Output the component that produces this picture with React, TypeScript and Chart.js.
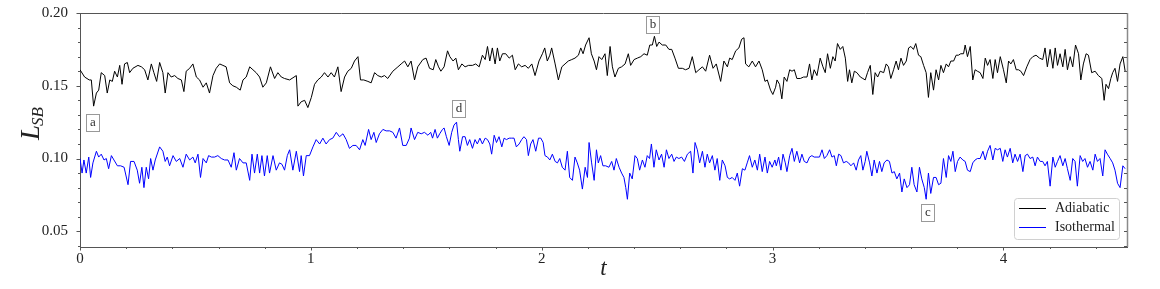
import React, { useEffect, useRef } from 'react';
import { Chart, registerables } from 'chart.js';

Chart.register(...registerables);

// ---- Data ----
const adiabaticT = [
  0.000, 0.020, 0.040, 0.049, 0.059, 0.071, 0.081, 0.092, 0.107, 0.118, 0.129, 0.140, 0.150, 0.162, 0.172, 0.182, 0.193, 0.205, 0.215, 0.229,
  0.251, 0.266, 0.280, 0.294, 0.309, 0.320, 0.332, 0.345, 0.359, 0.369, 0.381, 0.395, 0.410, 0.424, 0.439, 0.450, 0.460, 0.475, 0.489, 0.504,
  0.518, 0.533, 0.547, 0.561, 0.576, 0.590, 0.605, 0.619, 0.633, 0.648, 0.662, 0.677, 0.694, 0.706, 0.720, 0.735, 0.749, 0.763, 0.778, 0.792,
  0.807, 0.825, 0.843, 0.857, 0.872, 0.886, 0.908, 0.937, 0.944, 0.958, 0.973, 0.987, 1.002, 1.016, 1.030, 1.045, 1.059, 1.074, 1.088, 1.102,
  1.117, 1.131, 1.146, 1.160, 1.175, 1.189, 1.204, 1.215, 1.229, 1.247, 1.261, 1.276, 1.290, 1.305, 1.319, 1.333, 1.355, 1.377, 1.391, 1.406,
  1.420, 1.434, 1.449, 1.463, 1.485, 1.499, 1.514,
  1.530, 1.541, 1.553, 1.563, 1.577, 1.592, 1.602, 1.616, 1.628, 1.639, 1.654, 1.668, 1.683, 1.700, 1.714, 1.729, 1.743, 1.755, 1.765, 1.775,
  1.786, 1.798, 1.808, 1.818, 1.830, 1.844, 1.859, 1.873, 1.885, 1.899, 1.913, 1.928, 1.942, 1.957, 1.971, 1.988, 2.003, 2.013, 2.024, 2.035,
  2.043, 2.058, 2.072, 2.087, 2.101, 2.115, 2.130, 2.144, 2.159, 2.169, 2.179, 2.190, 2.205, 2.215, 2.227, 2.237, 2.248, 2.260, 2.274, 2.284,
  2.296, 2.306, 2.317, 2.332, 2.346, 2.361, 2.375, 2.385, 2.400, 2.414, 2.429, 2.443, 2.457, 2.468, 2.479, 2.488, 2.498, 2.508, 2.522, 2.537,
  2.551, 2.563, 2.577, 2.592, 2.609, 2.623, 2.638, 2.652, 2.667, 2.681, 2.696, 2.710, 2.727, 2.742, 2.756, 2.775, 2.789, 2.804, 2.814, 2.825,
  2.840, 2.854, 2.866, 2.876, 2.883, 2.897, 2.912, 2.926, 2.941, 2.955, 2.967, 2.977, 2.991, 3.001, 3.013,
  3.019, 3.030, 3.040, 3.050, 3.062, 3.074, 3.084, 3.094, 3.105, 3.120, 3.134, 3.149, 3.160, 3.170, 3.180, 3.192, 3.206, 3.218, 3.228, 3.238,
  3.250, 3.261, 3.271, 3.281, 3.293, 3.304, 3.315, 3.325, 3.333, 3.343, 3.354, 3.365, 3.380, 3.391, 3.401, 3.411, 3.423, 3.434, 3.444, 3.455,
  3.466, 3.481, 3.492, 3.502, 3.512, 3.524, 3.535, 3.545, 3.556, 3.567, 3.579, 3.589, 3.599, 3.610, 3.620, 3.632, 3.642, 3.654, 3.665, 3.675,
  3.685, 3.697, 3.708, 3.719, 3.729, 3.740, 3.752, 3.762, 3.772, 3.784, 3.795, 3.805, 3.815, 3.827, 3.834, 3.844, 3.856, 3.867, 3.877, 3.887,
  3.899, 3.911, 3.921, 3.931, 3.942, 3.954, 3.964, 3.974, 3.986, 4.000, 4.012, 4.022, 4.032, 4.043, 4.055, 4.065, 4.075, 4.087, 4.101, 4.115,
  4.127, 4.141, 4.156, 4.170, 4.180, 4.190, 4.202, 4.214, 4.224, 4.234, 4.245, 4.257, 4.267, 4.277, 4.289, 4.300, 4.312, 4.325, 4.335, 4.346,
  4.358, 4.368, 4.382, 4.397, 4.411, 4.426, 4.436, 4.444, 4.455, 4.465, 4.473, 4.483, 4.494, 4.505, 4.517, 4.527,
];
const adiabaticL = [
  0.161, 0.156, 0.154, 0.154, 0.136, 0.145, 0.147, 0.159, 0.157, 0.145, 0.154, 0.153, 0.160, 0.156, 0.164, 0.151, 0.165, 0.166, 0.159, 0.162,
  0.164, 0.163, 0.161, 0.154, 0.165, 0.159, 0.153, 0.166, 0.159, 0.145, 0.159, 0.156, 0.157, 0.155, 0.154, 0.146, 0.160, 0.162, 0.165, 0.156,
  0.154, 0.149, 0.152, 0.145, 0.157, 0.162, 0.165, 0.164, 0.163, 0.152, 0.150, 0.149, 0.147, 0.154, 0.156, 0.163, 0.161, 0.159, 0.156, 0.149,
  0.152, 0.163, 0.155, 0.159, 0.156, 0.155, 0.154, 0.157, 0.136, 0.139, 0.140, 0.135, 0.142, 0.151, 0.154, 0.156, 0.159, 0.156, 0.159, 0.156,
  0.163, 0.146, 0.156, 0.160, 0.162, 0.167, 0.170, 0.154, 0.154, 0.153, 0.152, 0.159, 0.157, 0.156, 0.157, 0.155, 0.160, 0.163, 0.165, 0.167,
  0.163, 0.167, 0.154, 0.163, 0.168, 0.169, 0.162,
  0.161, 0.168, 0.163, 0.160, 0.163, 0.174, 0.170, 0.167, 0.169, 0.161, 0.165, 0.163, 0.164, 0.164, 0.165, 0.163, 0.171, 0.168, 0.177, 0.167,
  0.176, 0.165, 0.176, 0.167, 0.172, 0.172, 0.169, 0.171, 0.161, 0.165, 0.163, 0.164, 0.162, 0.165, 0.157, 0.167, 0.172, 0.176, 0.167, 0.171,
  0.176, 0.165, 0.154, 0.163, 0.165, 0.167, 0.168, 0.169, 0.171, 0.176, 0.172, 0.178, 0.183, 0.172, 0.167, 0.161, 0.170, 0.168, 0.172, 0.157,
  0.177, 0.163, 0.156, 0.162, 0.163, 0.165, 0.172, 0.164, 0.168, 0.169, 0.170, 0.172, 0.171, 0.178, 0.178, 0.184, 0.177, 0.180, 0.178, 0.178,
  0.175, 0.175, 0.169, 0.162, 0.162, 0.161, 0.162, 0.170, 0.159, 0.161, 0.163, 0.160, 0.171, 0.162, 0.165, 0.153, 0.167, 0.163, 0.169, 0.168,
  0.174, 0.176, 0.182, 0.183, 0.165, 0.163, 0.167, 0.163, 0.167, 0.161, 0.153, 0.154, 0.147, 0.144, 0.149,
  0.154, 0.151, 0.141, 0.156, 0.153, 0.161, 0.160, 0.161, 0.155, 0.155, 0.156, 0.156, 0.165, 0.154, 0.161, 0.157, 0.169, 0.163, 0.159, 0.172,
  0.162, 0.170, 0.167, 0.179, 0.175, 0.177, 0.169, 0.153, 0.161, 0.152, 0.160, 0.159, 0.156, 0.155, 0.154, 0.159, 0.164, 0.144, 0.159, 0.156,
  0.160, 0.159, 0.165, 0.163, 0.155, 0.161, 0.167, 0.161, 0.169, 0.164, 0.167, 0.176, 0.177, 0.175, 0.179, 0.171, 0.170, 0.164, 0.159, 0.142,
  0.159, 0.147, 0.161, 0.154, 0.164, 0.159, 0.165, 0.163, 0.167, 0.167, 0.171, 0.171, 0.172, 0.172, 0.178, 0.170, 0.177, 0.154, 0.161, 0.160,
  0.159, 0.155, 0.169, 0.164, 0.168, 0.155, 0.168, 0.159, 0.170, 0.161, 0.152, 0.167, 0.165, 0.168, 0.161, 0.161, 0.160, 0.157, 0.163, 0.168,
  0.170, 0.171, 0.169, 0.168, 0.176, 0.163, 0.175, 0.162, 0.176, 0.164, 0.172, 0.163, 0.175, 0.161, 0.170, 0.163, 0.178, 0.172, 0.154, 0.165,
  0.172, 0.171, 0.159, 0.160, 0.157, 0.155, 0.140, 0.151, 0.148, 0.155, 0.159, 0.162, 0.153, 0.165, 0.170, 0.160,
];

const isothermalT = [
  0.000, 0.009, 0.017, 0.027, 0.038, 0.046, 0.056, 0.071, 0.081, 0.092, 0.104, 0.114, 0.124, 0.136, 0.147, 0.162, 0.176, 0.191, 0.208, 0.219,
  0.234, 0.248, 0.258, 0.268, 0.277, 0.287, 0.297, 0.306, 0.316, 0.326, 0.345, 0.359, 0.369, 0.378, 0.388, 0.403, 0.417, 0.432, 0.446, 0.460,
  0.475, 0.489, 0.499, 0.511, 0.522, 0.533, 0.547, 0.557, 0.569, 0.583, 0.597, 0.612, 0.626, 0.641, 0.655, 0.667, 0.677, 0.691, 0.706, 0.720,
  0.735, 0.745, 0.756, 0.768, 0.778, 0.788, 0.799, 0.811, 0.821, 0.836, 0.850, 0.864, 0.875, 0.886, 0.898, 0.908, 0.922, 0.937, 0.951, 0.958,
  0.968, 0.980, 0.994, 1.009, 1.023, 1.038, 1.052, 1.066, 1.081, 1.095, 1.110, 1.124, 1.139, 1.153, 1.167, 1.182, 1.196, 1.211, 1.225, 1.235,
  1.250, 1.261, 1.273, 1.283, 1.297, 1.312, 1.326, 1.341, 1.355, 1.369, 1.384, 1.398, 1.413, 1.427, 1.434, 1.449, 1.463, 1.478, 1.492, 1.507,
  1.519, 1.527, 1.538, 1.548, 1.558, 1.570, 1.577, 1.587, 1.599, 1.610, 1.620, 1.631, 1.639, 1.645, 1.657, 1.668, 1.678, 1.688, 1.700, 1.711,
  1.721, 1.732, 1.743, 1.755, 1.765, 1.775, 1.783, 1.794, 1.804, 1.815, 1.827, 1.837, 1.847, 1.859, 1.870, 1.880, 1.890, 1.902, 1.913, 1.923,
  1.934, 1.942, 1.952, 1.962, 1.974, 1.986, 1.996, 2.006, 2.014, 2.025, 2.035, 2.046, 2.058, 2.068, 2.078, 2.089, 2.101, 2.111, 2.121, 2.133,
  2.144, 2.154, 2.164, 2.176, 2.188, 2.198, 2.205, 2.216, 2.227, 2.237, 2.245, 2.255, 2.265, 2.277, 2.291, 2.303, 2.313, 2.323, 2.335, 2.346,
  2.356, 2.364, 2.371, 2.381, 2.392, 2.404, 2.414, 2.424, 2.436, 2.447, 2.457, 2.467, 2.475, 2.486, 2.496, 2.508, 2.519, 2.530, 2.540, 2.551,
  2.563, 2.573, 2.583, 2.594, 2.606, 2.618, 2.631, 2.645, 2.655, 2.664, 2.674, 2.684, 2.696, 2.707, 2.717, 2.727, 2.739, 2.750, 2.760, 2.771,
  2.782, 2.794, 2.804, 2.814, 2.825, 2.837, 2.847, 2.857, 2.869, 2.880, 2.890, 2.900, 2.912, 2.923, 2.934, 2.944, 2.955, 2.967, 2.977, 2.987,
  2.998, 3.010,
  3.016, 3.026, 3.036, 3.045, 3.055, 3.062, 3.074, 3.084, 3.094, 3.105, 3.117, 3.127, 3.137, 3.149, 3.160, 3.170, 3.180, 3.192, 3.203, 3.214,
  3.224, 3.235, 3.247, 3.257, 3.267, 3.276, 3.286, 3.296, 3.307, 3.319, 3.329, 3.339, 3.351, 3.362, 3.372, 3.382, 3.391, 3.401, 3.408, 3.420,
  3.430, 3.440, 3.452, 3.463, 3.473, 3.483, 3.495, 3.506, 3.517, 3.527, 3.538, 3.550, 3.560, 3.570, 3.582, 3.593, 3.603, 3.613, 3.625, 3.636,
  3.646, 3.657, 3.665, 3.675, 3.685, 3.697, 3.708, 3.719, 3.729, 3.740, 3.752, 3.762, 3.772, 3.781, 3.791, 3.801, 3.812, 3.824, 3.834, 3.844,
  3.856, 3.867, 3.877, 3.887, 3.899, 3.911, 3.921, 3.931, 3.942, 3.954, 3.964, 3.974, 3.986, 3.997, 4.007, 4.017, 4.029, 4.040, 4.050, 4.061,
  4.072, 4.084, 4.094, 4.104, 4.115, 4.127, 4.137, 4.147, 4.159, 4.170, 4.180, 4.190, 4.202, 4.214, 4.224, 4.234, 4.245, 4.257, 4.267, 4.277,
  4.289, 4.300, 4.310, 4.320, 4.332, 4.343, 4.353, 4.364, 4.375, 4.387, 4.397, 4.407, 4.418, 4.430, 4.440, 4.450, 4.462, 4.473, 4.483, 4.494,
  4.505, 4.517, 4.527,
];
const isothermalL = [
  0.100, 0.090, 0.099, 0.090, 0.101, 0.087, 0.097, 0.105, 0.101, 0.103, 0.099, 0.100, 0.093, 0.102, 0.099, 0.095, 0.095, 0.094, 0.082, 0.098,
  0.098, 0.092, 0.083, 0.094, 0.080, 0.094, 0.086, 0.100, 0.092, 0.099, 0.108, 0.105, 0.098, 0.101, 0.095, 0.102, 0.098, 0.100, 0.094, 0.103,
  0.099, 0.101, 0.097, 0.103, 0.087, 0.100, 0.097, 0.102, 0.101, 0.101, 0.102, 0.100, 0.099, 0.099, 0.094, 0.104, 0.092, 0.100, 0.097, 0.097,
  0.085, 0.103, 0.090, 0.103, 0.090, 0.102, 0.088, 0.102, 0.090, 0.102, 0.092, 0.097, 0.096, 0.092, 0.102, 0.106, 0.092, 0.105, 0.091, 0.102,
  0.088, 0.102, 0.102, 0.108, 0.113, 0.110, 0.114, 0.110, 0.113, 0.114, 0.118, 0.115, 0.117, 0.113, 0.107, 0.109, 0.109, 0.106, 0.113, 0.109,
  0.120, 0.113, 0.118, 0.111, 0.117, 0.120, 0.119, 0.119, 0.118, 0.114, 0.121, 0.109, 0.109, 0.114, 0.121, 0.113, 0.118, 0.117, 0.118, 0.116,
  0.118, 0.114, 0.120, 0.114, 0.117, 0.120, 0.121, 0.115, 0.109, 0.118, 0.123, 0.125, 0.113, 0.105, 0.115, 0.115, 0.109, 0.113, 0.107, 0.113,
  0.110, 0.114, 0.110, 0.114, 0.113, 0.110, 0.103, 0.116, 0.111, 0.115, 0.108, 0.114, 0.113, 0.114, 0.114, 0.114, 0.108, 0.110, 0.113, 0.115,
  0.113, 0.102, 0.110, 0.113, 0.105, 0.114, 0.114, 0.111, 0.102, 0.101, 0.099, 0.103, 0.098, 0.097, 0.100, 0.094, 0.092, 0.105, 0.087, 0.085,
  0.101, 0.097, 0.092, 0.079, 0.094, 0.087, 0.111, 0.097, 0.085, 0.106, 0.097, 0.102, 0.095, 0.095, 0.094, 0.098, 0.092, 0.100, 0.094, 0.090,
  0.087, 0.080, 0.072, 0.090, 0.086, 0.102, 0.100, 0.092, 0.099, 0.094, 0.102, 0.100, 0.110, 0.094, 0.106, 0.099, 0.103, 0.094, 0.106, 0.100,
  0.103, 0.098, 0.101, 0.100, 0.101, 0.098, 0.103, 0.105, 0.090, 0.111, 0.106, 0.097, 0.105, 0.094, 0.103, 0.097, 0.102, 0.092, 0.100, 0.085,
  0.099, 0.095, 0.087, 0.086, 0.087, 0.085, 0.090, 0.081, 0.093, 0.092, 0.097, 0.102, 0.094, 0.099, 0.092, 0.103, 0.091, 0.101, 0.090, 0.098,
  0.094, 0.099,
  0.095, 0.101, 0.092, 0.103, 0.097, 0.091, 0.102, 0.107, 0.098, 0.105, 0.097, 0.103, 0.098, 0.097, 0.101, 0.102, 0.101, 0.101, 0.101, 0.106,
  0.100, 0.102, 0.106, 0.101, 0.102, 0.095, 0.103, 0.102, 0.097, 0.098, 0.097, 0.095, 0.097, 0.092, 0.099, 0.102, 0.092, 0.098, 0.105, 0.097,
  0.088, 0.099, 0.090, 0.098, 0.091, 0.097, 0.099, 0.098, 0.090, 0.091, 0.086, 0.090, 0.077, 0.086, 0.080, 0.082, 0.094, 0.082, 0.077, 0.094,
  0.086, 0.080, 0.072, 0.090, 0.076, 0.087, 0.087, 0.082, 0.083, 0.100, 0.087, 0.102, 0.098, 0.105, 0.091, 0.098, 0.101, 0.099, 0.098, 0.092,
  0.091, 0.097, 0.099, 0.100, 0.100, 0.105, 0.099, 0.105, 0.109, 0.099, 0.107, 0.106, 0.107, 0.098, 0.106, 0.101, 0.107, 0.097, 0.103, 0.098,
  0.103, 0.091, 0.102, 0.103, 0.100, 0.101, 0.095, 0.101, 0.098, 0.098, 0.095, 0.098, 0.081, 0.101, 0.094, 0.098, 0.102, 0.095, 0.100, 0.093,
  0.085, 0.100, 0.098, 0.081, 0.102, 0.098, 0.100, 0.094, 0.098, 0.092, 0.103, 0.098, 0.100, 0.088, 0.106, 0.103, 0.100, 0.097, 0.092, 0.083,
  0.080, 0.095, 0.093,
];

const seriesNames = ['Adiabatic', 'Isothermal'];
const seriesColors = ['#000000', '#0000ff'];

const xMajorTicks = [0, 1, 2, 3, 4];
const xMinorTicks = [0.2, 0.4, 0.6, 0.8, 1.2, 1.4, 1.6, 1.8, 2.2, 2.4, 2.6, 2.8, 3.2, 3.4, 3.6, 3.8, 4.2, 4.4];
const yMajorTicks = [0.05, 0.1, 0.15, 0.2];
const yMinorTicks = [0.04, 0.06, 0.07, 0.08, 0.09, 0.11, 0.12, 0.13, 0.14, 0.16, 0.17, 0.18, 0.19];

const markLabels = ['a', 'b', 'c', 'd'];
const markT = [0.056, 2.478, 3.673, 1.638];
const markL = [0.125, 0.1923, 0.0626, 0.1343];

const X_MIN = 0;
const X_MAX = 4.535;
const Y_MIN = 0.0392;
const Y_MAX = 0.2;

const SERIF = '"Liberation Serif", "DejaVu Serif", serif';

const toPoints = (ts: number[], ls: number[]) => ts.map((t, i) => ({ x: t, y: ls[i] }));

const decorPlugin = {
  id: 'decor',
  afterDraw(chart: any) {
    const { ctx, chartArea, scales } = chart;
    const xs = scales.x;
    const ys = scales.y;
    const { left, right, top, bottom } = chartArea;
    ctx.save();

    // top and right spines
    ctx.lineWidth = 1;
    ctx.strokeStyle = '#555';
    ctx.beginPath();
    ctx.moveTo(left, Math.round(top) + 0.5);
    ctx.lineTo(right, Math.round(top) + 0.5);
    ctx.stroke();
    ctx.strokeStyle = '#8a8a8a';
    ctx.lineWidth = 1.5;
    ctx.beginPath();
    ctx.moveTo(Math.round(right) + 0.5, top);
    ctx.lineTo(Math.round(right) + 0.5, bottom);
    ctx.stroke();

    // ticks
    ctx.strokeStyle = '#555';
    ctx.lineWidth = 1;
    const yTick = (v: number, len: number) => {
      const y = Math.round(ys.getPixelForValue(v)) + 0.5;
      ctx.beginPath();
      ctx.moveTo(left - len, y);
      ctx.lineTo(left, y);
      ctx.stroke();
    };
    const yTickRight = (v: number, len: number) => {
      const y = Math.round(ys.getPixelForValue(v)) + 0.5;
      ctx.beginPath();
      ctx.moveTo(right - len, y);
      ctx.lineTo(right, y);
      ctx.stroke();
    };
    const xTick = (v: number, len: number) => {
      const x = Math.round(xs.getPixelForValue(v)) + 0.5;
      ctx.beginPath();
      ctx.moveTo(x, bottom);
      ctx.lineTo(x, bottom + len);
      ctx.stroke();
    };
    yMajorTicks.forEach((v) => { yTick(v, 3.5); yTickRight(v, 3); });
    yMinorTicks.forEach((v) => { yTick(v, 2); yTickRight(v, 3); });
    xMajorTicks.forEach((v) => xTick(v, 3.5));
    xMinorTicks.forEach((v) => xTick(v, 2));

    // axis titles
    ctx.fillStyle = '#222';
    ctx.textBaseline = 'alphabetic';
    ctx.textAlign = 'center';
    ctx.font = `italic 23px ${SERIF}`;
    ctx.fillText('t', (left + right) / 2, 275);

    ctx.save();
    const bigFont = `italic 27px ${SERIF}`;
    const smallFont = `italic 17px ${SERIF}`;
    ctx.font = bigFont;
    const wL = ctx.measureText('L').width;
    ctx.font = smallFont;
    const wS = ctx.measureText('SB').width;
    const total = wL + wS;
    const cy = 123;
    ctx.translate(39, cy + total / 2);
    ctx.rotate(-Math.PI / 2);
    ctx.textAlign = 'left';
    ctx.font = bigFont;
    ctx.fillText('L', 0, 0);
    ctx.font = smallFont;
    ctx.fillText('SB', wL - 1, 4);
    ctx.restore();

    // annotation boxes
    ctx.font = `13px ${SERIF}`;
    ctx.textAlign = 'center';
    ctx.textBaseline = 'middle';
    markLabels.forEach((lab, i) => {
      const px = xs.getPixelForValue(markT[i]);
      const py = ys.getPixelForValue(markL[i]);
      const w = 13, h = 17;
      const bx = Math.round(px - w / 2) + 0.5;
      const by = Math.round(py - h / 2) + 0.5;
      ctx.fillStyle = '#fff';
      ctx.fillRect(bx, by, w, h);
      ctx.strokeStyle = '#999';
      ctx.lineWidth = 1;
      ctx.strokeRect(bx, by, w, h);
      ctx.fillStyle = '#333';
      ctx.fillText(lab, bx + w / 2, by + h / 2);
    });

    // legend
    const lx = 1014.5, ly = 198.5, lw = 105, lh = 41, r = 3;
    ctx.beginPath();
    ctx.moveTo(lx + r, ly);
    ctx.lineTo(lx + lw - r, ly);
    ctx.arcTo(lx + lw, ly, lx + lw, ly + r, r);
    ctx.lineTo(lx + lw, ly + lh - r);
    ctx.arcTo(lx + lw, ly + lh, lx + lw - r, ly + lh, r);
    ctx.lineTo(lx + r, ly + lh);
    ctx.arcTo(lx, ly + lh, lx, ly + lh - r, r);
    ctx.lineTo(lx, ly + r);
    ctx.arcTo(lx, ly, lx + r, ly, r);
    ctx.closePath();
    ctx.fillStyle = 'rgba(255,255,255,0.85)';
    ctx.fill();
    ctx.strokeStyle = '#d0d0d0';
    ctx.stroke();
    ctx.font = `14px ${SERIF}`;
    ctx.textAlign = 'left';
    ctx.textBaseline = 'middle';
    seriesNames.forEach((name, i) => {
      const yy = 208.5 + i * 19;
      ctx.strokeStyle = seriesColors[i];
      ctx.lineWidth = 1;
      ctx.beginPath();
      ctx.moveTo(1019, yy);
      ctx.lineTo(1046, yy);
      ctx.stroke();
      ctx.fillStyle = '#222';
      ctx.fillText(name, 1055, yy);
    });

    ctx.restore();
  },
};

export default function App() {
  const ref = useRef<HTMLCanvasElement | null>(null);

  useEffect(() => {
    const canvas = ref.current;
    if (!canvas) return;
    const chart = new Chart(canvas, {
      type: 'line',
      data: {
        datasets: [
          {
            label: seriesNames[0],
            data: toPoints(adiabaticT, adiabaticL),
            borderColor: seriesColors[0],
            borderWidth: 1,
            pointRadius: 0,
            tension: 0,
            fill: false,
          },
          {
            label: seriesNames[1],
            data: toPoints(isothermalT, isothermalL),
            borderColor: seriesColors[1],
            borderWidth: 1,
            pointRadius: 0,
            tension: 0,
            fill: false,
          },
        ],
      },
      options: {
        responsive: false,
        animation: false,
        devicePixelRatio: 1,
        layout: { padding: { left: 0, right: 33, top: 13, bottom: 0 } },
        plugins: {
          legend: { display: false },
          tooltip: { enabled: false },
          title: { display: false },
        },
        scales: {
          x: {
            type: 'linear',
            min: X_MIN,
            max: X_MAX,
            grid: { display: false, drawTicks: false },
            border: { display: true, color: '#555', width: 1 },
            afterBuildTicks: (s: any) => { s.ticks = xMajorTicks.map((v) => ({ value: v })); },
            afterFit: (s: any) => { s.height = 42; s.paddingLeft = 0; s.paddingRight = 0; },
            ticks: {
              padding: 3,
              color: '#222',
              font: { family: SERIF, size: 15 },
              callback: (v: any) => String(v),
              maxRotation: 0,
            },
          },
          y: {
            type: 'linear',
            min: Y_MIN,
            max: Y_MAX,
            grid: { display: false, drawTicks: false },
            border: { display: true, color: '#555', width: 1 },
            afterBuildTicks: (s: any) => { s.ticks = yMajorTicks.map((v) => ({ value: v })); },
            afterFit: (s: any) => { s.width = 80; s.paddingTop = 0; s.paddingBottom = 0; },
            ticks: {
              padding: 12,
              color: '#222',
              font: { family: SERIF, size: 15 },
              callback: (v: any) => Number(v).toFixed(2),
            },
          },
        },
      },
      plugins: [decorPlugin],
    });
    return () => chart.destroy();
  }, []);

  return (
    <div style={{ position: 'fixed', left: 0, top: 0, width: 1160, height: 289, background: '#fff' }}>
      <canvas ref={ref} width={1160} height={289} style={{ width: 1160, height: 289, display: 'block' }} />
    </div>
  );
}
